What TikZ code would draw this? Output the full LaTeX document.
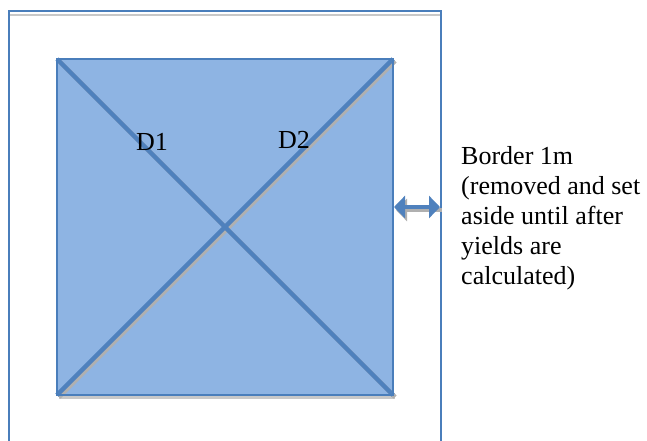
\documentclass[tikz,border=0pt]{standalone}
\usepackage{fontspec}
\setmainfont{Liberation Serif}
\usetikzlibrary{arrows.meta}
\definecolor{boxfill}{HTML}{8EB4E3}
\definecolor{boxline}{HTML}{4A7EBB}
\definecolor{diagline}{HTML}{4F81BD}
\definecolor{shadowgray}{HTML}{B0B0B0}
\tikzset{
  frameline/.style={draw=boxline, line width=2pt},
  diag/.style={draw=diagline, line width=4.5pt},
  diagshadow/.style={draw=shadowgray, line width=4.5pt},
  lbl/.style={font=\fontsize{26}{30}\selectfont, inner sep=0pt},
}
\begin{document}
\begin{tikzpicture}[x=1pt,y=-1pt]
\useasboundingbox (0,0) rectangle (647,440);
% outer frame
\coordinate (fbl) at (9,440);
\coordinate (ftl) at (9,11);
\coordinate (ftr) at (441,11);
\coordinate (fbr) at (441,440);
\draw[draw=shadowgray!70, line width=2pt] (10,14.5) -- (441,14.5);
\draw[frameline, line cap=rect] (fbl) -- (ftl) -- (ftr) -- (fbr);
% square
\coordinate (tl) at (57,59);
\coordinate (tr) at (393,59);
\coordinate (br) at (393,395);
\coordinate (bl) at (57,395);
\fill[shadowgray!70] (59,395) rectangle (395,399);
\fill[boxfill] (tl) rectangle (br);
% diagonal shadows
\draw[diagshadow] ([shift={(2,2)}]tl) -- ([shift={(2,2)}]br);
\draw[diagshadow] ([shift={(2,2)}]bl) -- ([shift={(2,2)}]tr);
\draw[diag] (tl) -- (br);
\draw[diag] (bl) -- (tr);
\draw[draw=boxline, line width=1.5pt] (tl) rectangle (br);
% labels
\node[lbl, anchor=base] (d1) at (152,150) {D1};
\node[lbl, anchor=base] (d2) at (294,148) {D2};
% arrow
\coordinate (al) at (394,207);
\coordinate (ar) at (440,207);
\draw[draw=shadowgray, line width=4pt, -{Triangle[width=22pt,length=11pt]}, {Triangle[width=22pt,length=11pt]}-] ([shift={(2,3)}]al) -- ([shift={(2,3)}]ar);
\draw[draw=diagline, line width=4pt, {Triangle[width=22pt,length=11pt]}-{Triangle[width=22pt,length=11pt]}] (al) -- (ar);
% text
\node[lbl, anchor=north west, align=left] (txt) at (461,146) {Border 1m\\(removed and set\\aside until after\\yields are\\calculated)};
\end{tikzpicture}
\end{document}
